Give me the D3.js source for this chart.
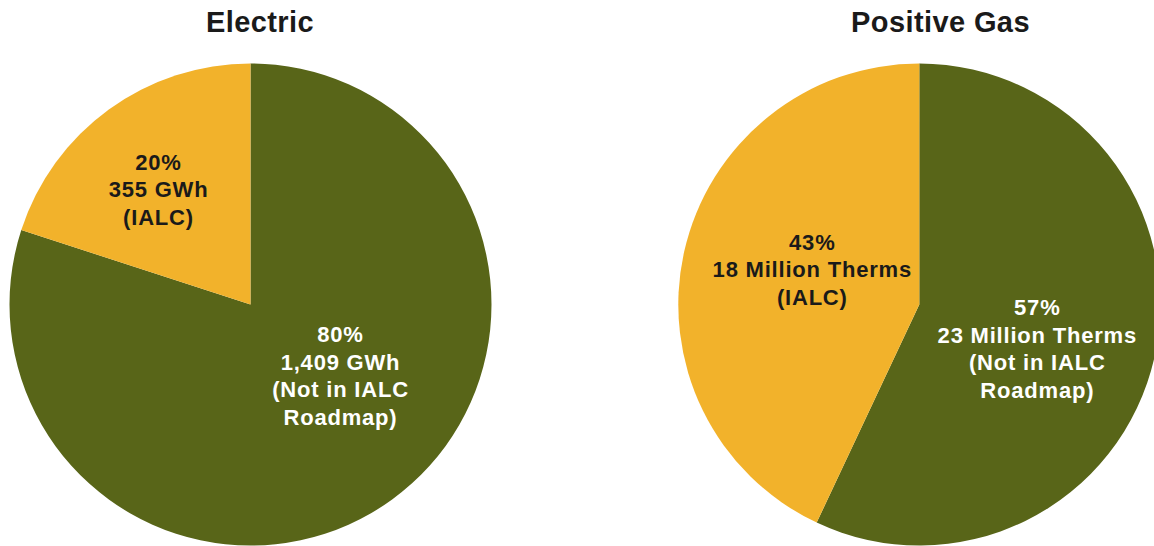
<!DOCTYPE html>
<html>
<head>
<meta charset="utf-8">
<script src="https://cdn.jsdelivr.net/npm/d3@7"></script>
<style>
  html, body { margin: 0; padding: 0; background: #ffffff; }
  svg { display: block; }
  text { font-family: "Liberation Sans", Arial, Helvetica, sans-serif; font-weight: bold; }
</style>
</head>
<body>
<svg id="chart" width="1154" height="546"></svg>
<script>
// Savings split between the IALC roadmap and the remainder, per fuel
const chartTitles = ["Electric", "Positive Gas"];
const sliceKeys = ["Not in IALC Roadmap", "IALC"];
const electricPercent = [80, 20];
const electricGWh = ["1,409", "355"];
const gasPercent = [57, 43];
const gasMillionTherms = ["23", "18"];

const electricLabels = [
  [`${electricPercent[0]}%`, `${electricGWh[0]} GWh`, "(Not in IALC", "Roadmap)"],
  [`${electricPercent[1]}%`, `${electricGWh[1]} GWh`, "(IALC)"]
];
const gasLabels = [
  [`${gasPercent[0]}%`, `${gasMillionTherms[0]} Million Therms`, "(Not in IALC", "Roadmap)"],
  [`${gasPercent[1]}%`, `${gasMillionTherms[1]} Million Therms`, "(IALC)"]
];

// Layout
const radius = 241;
const colors = { "Not in IALC Roadmap": "#586518", "IALC": "#F2B22B" };
const textColors = { "Not in IALC Roadmap": "#ffffff", "IALC": "#1a1a1a" };
const panels = [
  { title: chartTitles[0], values: electricPercent, labels: electricLabels,
    cx: 250.5, cy: 304.5, titleX: 260,
    labelOffsets: [[90, 71], [-92, -115]] },
  { title: chartTitles[1], values: gasPercent, labels: gasLabels,
    cx: 919.3, cy: 304.5, titleX: 940.5,
    labelOffsets: [[118, 44], [-107, -35]] }
];

const svg = d3.select("#chart");

const pie = d3.pie().sort(null).value(d => d.value);
const arc = d3.arc().innerRadius(0).outerRadius(radius);
const lineHeight = 27.7;

panels.forEach(p => {
  const g = svg.append("g").attr("transform", `translate(${p.cx},${p.cy})`);
  const data = sliceKeys.map((k, i) => ({ key: k, value: p.values[i], lines: p.labels[i], offset: p.labelOffsets[i] }));
  const arcs = pie(data);

  g.selectAll("path.slice")
    .data(arcs)
    .join("path")
    .attr("class", "slice")
    .attr("d", arc)
    .attr("fill", d => colors[d.data.key]);

  // multi-line labels inside each slice
  const lbl = g.selectAll("text.slice-label")
    .data(arcs)
    .join("text")
    .attr("class", "slice-label")
    .attr("text-anchor", "middle")
    .attr("font-size", 22)
    .attr("fill", d => textColors[d.data.key])
    .attr("transform", d => `translate(${d.data.offset[0]},${d.data.offset[1]})`);

  lbl.each(function(d) {
    const n = d.data.lines.length;
    d3.select(this).selectAll("tspan")
      .data(d.data.lines)
      .join("tspan")
      .attr("x", 0)
      .attr("y", (t, i) => (i - (n - 1) / 2) * lineHeight)
      .attr("dy", "0.36em")
      .attr("letter-spacing", 0.8)
      .text(t => t);
  });

  svg.append("text")
    .attr("x", p.titleX)
    .attr("y", 32)
    .attr("text-anchor", "middle")
    .attr("font-size", 29)
    .attr("fill", "#1a1a1a")
    .attr("letter-spacing", 0.4)
    .text(p.title);
});
</script>
</body>
</html>
